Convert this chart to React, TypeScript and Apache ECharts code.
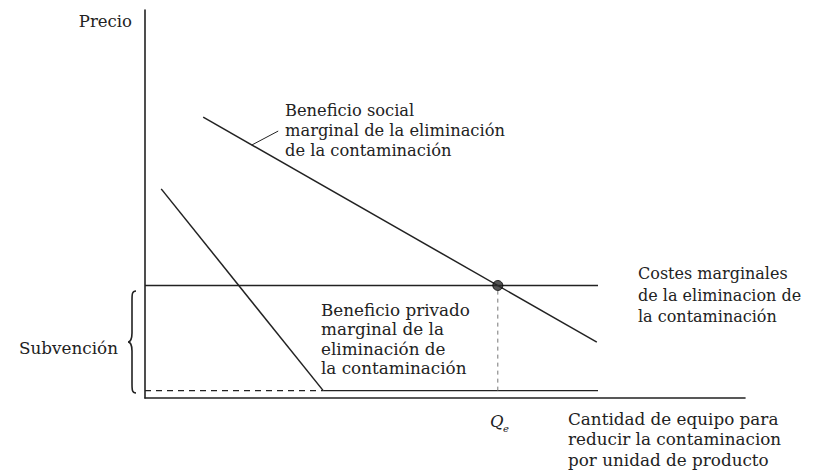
import React, { useEffect, useRef } from "react";
import * as echarts from "echarts";

// Data (x: quantity of abatement equipment 0..100, y: price 0..100)
const socialBenefit = [[9.7, 72.4], [75.3, 14.4]];
const privateBenefit = [[2.7, 53.9], [29.7, 1.9]];
const marginalCost = [[0, 29.0], [75.5, 29.0]];
const subsidyBaseDashed = [[0, 1.9], [29.7, 1.9]];
const subsidyBaseSolid = [[29.7, 1.9], [75.5, 1.9]];
const qe = 58.8;
const equilibrium = [[qe, 29.0]];
const qeGuide = [[qe, 1.9], [qe, 29.0]];
const leader = [[17.8, 65.2], [22.2, 68.8]];

const yAxisName = "Precio";
const xAxisNameLines = ["Cantidad de equipo para", "reducir la contaminacion", "por unidad de producto"];
const socialLabel = ["Beneficio social", "marginal de la eliminación", "de la contaminación"];
const privateLabel = ["Beneficio privado", "marginal de la", "eliminación de", "la contaminación"];
const costLabel = ["Costes marginales", "de la eliminacion de", "la contaminación"];
const subsidyLabel = "Subvención";

const FONT = "DejaVu Serif";
const INK = "#222";

const bracePath =
  "M8,0 C4,0 4,3 4,10 L4,42 C4,48 2,51 0,51 C2,51 4,54 4,60 L4,92 C4,99 4,102 8,102";
echarts.graphic.registerShape("brace", (echarts.graphic as any).extendPath(bracePath, {}));

export default function App() {
  const ref = useRef<HTMLDivElement>(null);
  useEffect(() => {
    if (!ref.current) return;
    const chart = echarts.init(ref.current, null, { renderer: "svg" });
    const lineSeries = (data: number[][], width: number, type: any = "solid", color = INK) => ({
      type: "line",
      data,
      showSymbol: false,
      symbol: "none",
      silent: true,
      lineStyle: { color, width, type },
    });
    const txt = (lines: string[], x: number, top: number, lh: number, fs = 16.5, align = "left") => ({
      type: "text",
      x,
      y: top,
      style: {
        text: lines.join("\n"),
        font: `${fs}px '${FONT}'`,
        fill: INK,
        lineHeight: lh,
        align,
        verticalAlign: "top",
      },
    });
    chart.setOption({
      animation: false,
      grid: { left: 145, right: 78, top: 10, bottom: 72 },
      xAxis: {
        type: "value",
        min: 0,
        max: 100,
        axisLine: { show: true, lineStyle: { color: INK, width: 1.6 } },
        axisTick: { show: false },
        axisLabel: { show: false },
        splitLine: { show: false },
      },
      yAxis: {
        type: "value",
        min: 0,
        max: 100,
        axisLine: { show: true, lineStyle: { color: INK, width: 1.6 } },
        axisTick: { show: false },
        axisLabel: { show: false },
        splitLine: { show: false },
      },
      series: [
        lineSeries(socialBenefit, 1.5),
        lineSeries(privateBenefit, 1.5),
        lineSeries(marginalCost, 1.3),
        lineSeries(subsidyBaseDashed, 1.3, [6, 5]),
        lineSeries(subsidyBaseSolid, 1.3),
        lineSeries(qeGuide, 1, [4, 4], "#777"),
        lineSeries(leader, 1),
        {
          type: "scatter",
          data: equilibrium,
          symbolSize: 10,
          silent: true,
          itemStyle: { color: "#2a2a2a", borderColor: "#000", borderWidth: 1 },
          z: 5,
        },
      ],
      graphic: [
        txt([yAxisName], 132, 11, 20, 16.5, "right"),
        txt(socialLabel, 285, 100, 20, 16.3),
        txt(privateLabel, 321, 300, 19.4, 16.8),
        txt(costLabel, 638, 263, 21.5, 16),
        txt(xAxisNameLines, 568, 408.5, 20.5, 16.8),
        txt([subsidyLabel], 118, 338, 20, 16.8, "right"),
        {
          type: "text",
          x: 490,
          y: 413,
          style: { text: "Q", font: `italic 16.5px '${FONT}'`, fill: INK, verticalAlign: "top" },
        },
        {
          type: "text",
          x: 503,
          y: 423,
          style: { text: "e", font: `italic 10px '${FONT}'`, fill: INK, verticalAlign: "top" },
        },
        {
          type: "brace",
          x: 128,
          y: 291,
          style: { fill: "none", stroke: INK, lineWidth: 1.6 },
        },
      ],
    });
    return () => chart.dispose();
  }, []);
  return <div ref={ref} style={{ width: 823, height: 470, position: "absolute", left: 0, top: 0, background: "#fff" }} />;
}
